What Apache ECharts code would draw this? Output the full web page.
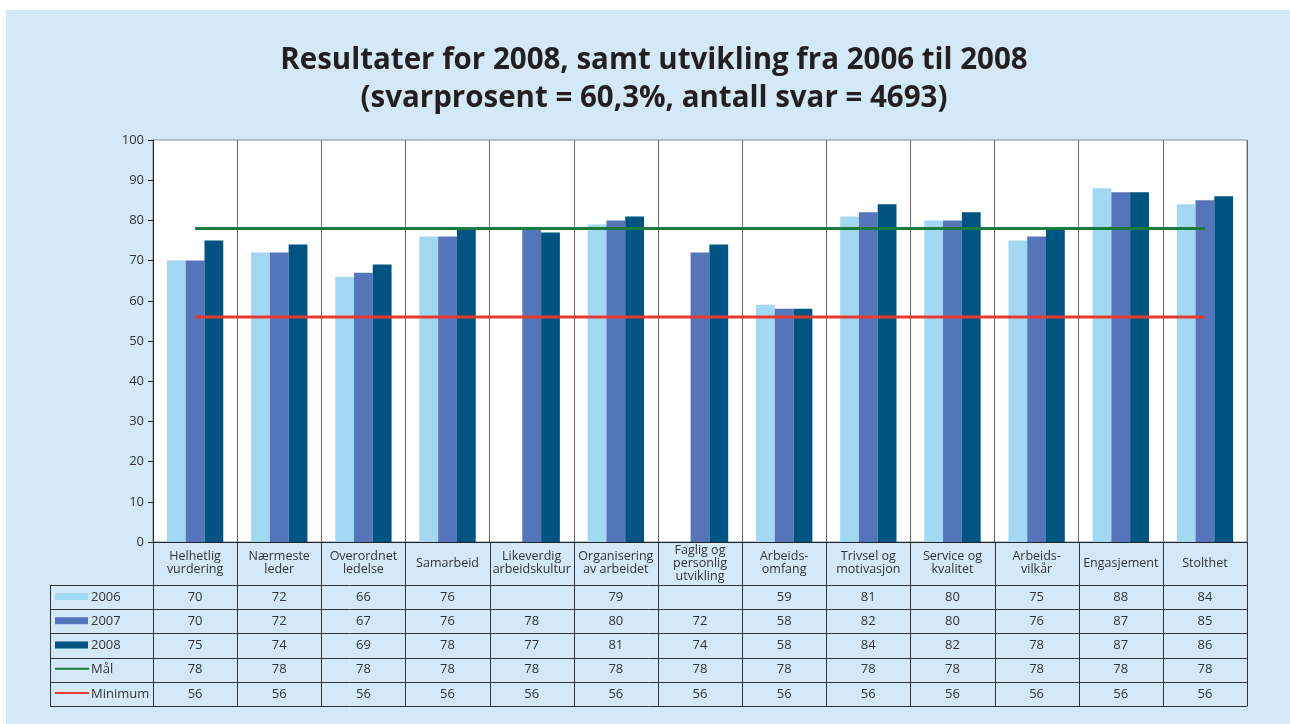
<!DOCTYPE html>
<html>
<head>
<meta charset="utf-8">
<script src="https://cdn.jsdelivr.net/npm/echarts@6/dist/echarts.min.js"></script>
<style>
  html, body { margin: 0; padding: 0; background: #fff; }
  #chart { width: 1290px; height: 724px; }
</style>
</head>
<body>
<div id="chart"></div>
<script>
var categories = ['Helhetlig\nvurdering', 'Nærmeste\nleder', 'Overordnet\nledelse', 'Samarbeid',
  'Likeverdig\narbeidskultur', 'Organisering\nav arbeidet', 'Faglig og\npersonlig\nutvikling',
  'Arbeids-\nomfang', 'Trivsel og\nmotivasjon', 'Service og\nkvalitet', 'Arbeids-\nvilkår',
  'Engasjement', 'Stolthet'];
var v2006 = [70, 72, 66, 76, null, 79, null, 59, 81, 80, 75, 88, 84];
var v2007 = [70, 72, 67, 76, 78, 80, 72, 58, 82, 80, 76, 87, 85];
var v2008 = [75, 74, 69, 78, 77, 81, 74, 58, 84, 82, 78, 87, 86];
var maal = [78, 78, 78, 78, 78, 78, 78, 78, 78, 78, 78, 78, 78];
var minimum = [56, 56, 56, 56, 56, 56, 56, 56, 56, 56, 56, 56, 56];
var rowNames = ['2006', '2007', '2008', 'Mål', 'Minimum'];
var yTicks = [0, 10, 20, 30, 40, 50, 60, 70, 80, 90, 100];

var colors = ['#a3d8f3', '#5575ba', '#005481', '#1b7b3f', '#e53a2d'];
var panelColor = '#d3e9f7';
var font = '"Open Sans", "Noto Sans", sans-serif';

// plot area
var W = 1290, H = 724;
var gLeft = 153, gRight = 1247, gTop = 140, gBottom = 542;
var headerBottom = 585, rowH = 24.2, tableLeft = 50;

var rows = [v2006, v2007, v2008, maal, minimum];

function buildTable() {
  var els = [];
  var n = categories.length;
  var colW = (gRight - gLeft) / n;
  var tableBottom = headerBottom + rowH * rows.length;
  var lineStyle = { stroke: '#333', lineWidth: 1 };

  els.push({ type: 'rect', z: -100, silent: true,
    shape: { x: 6, y: 10, width: W - 6, height: H - 10 },
    style: { fill: panelColor } });

  // vertical lines
  for (var i = 0; i <= n; i++) {
    var x = Math.round(gLeft + colW * i) + 0.5;
    els.push({ type: 'line', shape: { x1: x, y1: gBottom, x2: x, y2: tableBottom }, style: lineStyle });
  }
  els.push({ type: 'line', shape: { x1: tableLeft + 0.5, y1: headerBottom, x2: tableLeft + 0.5, y2: tableBottom }, style: lineStyle });
  // horizontal lines
  for (var r = 0; r <= rows.length; r++) {
    var y = Math.round(headerBottom + rowH * r) + 0.5;
    els.push({ type: 'line', shape: { x1: tableLeft, y1: y, x2: gRight + 0.5, y2: y }, style: lineStyle });
  }

  for (r = 0; r < rows.length; r++) {
    var cy = headerBottom + rowH * r + rowH / 2;
    // legend keys
    if (r < 3) {
      els.push({ type: 'rect', shape: { x: 55, y: cy - 4, width: 33, height: 7 }, style: { fill: colors[r] } });
    } else {
      els.push({ type: 'line', shape: { x1: 55, y1: cy - 1, x2: 89, y2: cy - 1 }, style: { stroke: colors[r], lineWidth: 2 } });
    }
    els.push({ type: 'text', style: { text: rowNames[r], x: 91, y: cy, fill: '#333', font: '13px ' + font,
      align: 'left', verticalAlign: 'middle', textAlign: 'left', textVerticalAlign: 'middle' } });
    for (i = 0; i < n; i++) {
      var val = rows[r][i];
      if (val === null) continue;
      els.push({ type: 'text', style: { text: String(val), x: gLeft + colW * (i + 0.5), y: cy, fill: '#333',
        font: '13px ' + font, align: 'center', verticalAlign: 'middle', textAlign: 'center', textVerticalAlign: 'middle' } });
    }
  }
  return els;
}

var chart = echarts.init(document.getElementById('chart'));
var option = {
  animation: false,
  backgroundColor: 'transparent',
  title: {
    text: 'Resultater for 2008, samt utvikling fra 2006 til 2008\n(svarprosent = 60,3%, antall svar = 4693)',
    left: 649,
    top: 37,
    textAlign: 'center',
    textStyle: { fontFamily: font, fontWeight: 'bold', fontSize: 29.5, lineHeight: 38, color: '#231f20' }
  },
  legend: { show: false },
  grid: {
    left: gLeft, right: W - gRight, top: gTop, bottom: H - gBottom,
    show: true, backgroundColor: '#fff', borderColor: '#8a8a8a', borderWidth: 1
  },
  xAxis: {
    type: 'category',
    data: categories,
    boundaryGap: true,
    axisLine: { lineStyle: { color: '#222', width: 1 } },
    axisTick: { show: false },
    splitLine: { show: true, interval: 0, lineStyle: { color: '#666', width: 1 } },
    axisLabel: {
      interval: 0, margin: 21, verticalAlign: 'middle', align: 'center',
      fontFamily: font, fontSize: 12.5, lineHeight: 13, color: '#333'
    }
  },
  yAxis: {
    type: 'value', min: yTicks[0], max: yTicks[yTicks.length - 1], interval: 10,
    axisLine: { show: true, lineStyle: { color: '#222', width: 1 } },
    axisTick: { show: true, length: 5, lineStyle: { color: '#222' } },
    splitLine: { show: false },
    axisLabel: { fontFamily: font, fontSize: 13, color: '#333', margin: 9 }
  },
  series: [
    { name: '2006', type: 'bar', data: v2006, itemStyle: { color: colors[0] }, barGap: '0%', barCategoryGap: '33%' },
    { name: '2007', type: 'bar', data: v2007, itemStyle: { color: colors[1] } },
    { name: '2008', type: 'bar', data: v2008, itemStyle: { color: colors[2] } },
    { name: 'Mål', type: 'line', data: maal, symbol: 'none', z: 5, lineStyle: { color: colors[3], width: 3 } },
    { name: 'Minimum', type: 'line', data: minimum, symbol: 'none', z: 5, lineStyle: { color: colors[4], width: 3 } }
  ],
  graphic: { elements: buildTable() }
};
chart.setOption(option);
</script>
</body>
</html>
